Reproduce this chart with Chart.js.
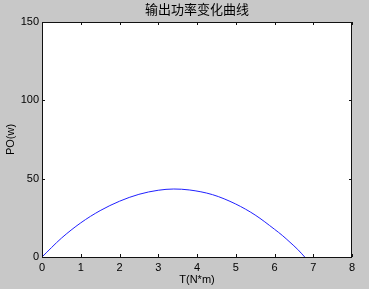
<!DOCTYPE html>
<html>
<head>
<meta charset="utf-8">
<script src="https://cdn.jsdelivr.net/npm/chart.js@4.4.1/dist/chart.umd.min.js"></script>
<style>
html,body{margin:0;padding:0;background:#c8c8c8;}
canvas{display:block;}
</style>
</head>
<body>
<canvas id="c" width="369" height="289"></canvas>
<script>
const titleText = '输出功率变化曲线';
const xLabel = 'T(N*m)';
const yLabel = 'PO(w)';
const torque = [0, 0.5, 1, 1.5, 2, 2.5, 3, 3.4, 3.8, 4.4, 5, 5.5, 6, 6.2, 6.4, 6.6, 6.78];
const power  = [0, 12.0, 21.8, 29.6, 35.6, 40.0, 42.6, 43.4, 42.8, 39.8, 33.8, 26.8, 17.7, 13.8, 9.4, 4.8, 0];
const xTicks = [0, 1, 2, 3, 4, 5, 6, 7, 8];
const yTicks = [0, 50, 100, 150];

const FONT = "'Liberation Sans', Arial, sans-serif";

const frame = {
  id: 'frame',
  beforeDraw(chart) {
    const {ctx, chartArea: a} = chart;
    ctx.save();
    ctx.fillStyle = '#c8c8c8';
    ctx.fillRect(0, 0, chart.width, chart.height);
    ctx.fillStyle = '#ffffff';
    ctx.fillRect(a.left, a.top, a.right - a.left, a.bottom - a.top);
    ctx.restore();
  },
  afterDraw(chart) {
    const {ctx, chartArea: a, scales} = chart;
    ctx.save();
    ctx.strokeStyle = '#111';
    ctx.lineWidth = 1;
    ctx.strokeRect(Math.round(a.left) + 0.5, Math.round(a.top) + 0.5,
                   Math.round(a.right - a.left) - 1, Math.round(a.bottom - a.top));
    const L = 3;
    ctx.beginPath();
    xTicks.forEach(v => {
      const x = Math.round(scales.x.getPixelForValue(v)) + 0.5;
      ctx.moveTo(x, a.bottom); ctx.lineTo(x, a.bottom - L);
      ctx.moveTo(x, a.top); ctx.lineTo(x, a.top + L);
    });
    yTicks.forEach(v => {
      const y = Math.round(scales.y.getPixelForValue(v)) + 0.5;
      ctx.moveTo(a.left, y); ctx.lineTo(a.left + L, y);
      ctx.moveTo(a.right, y); ctx.lineTo(a.right - L, y);
    });
    ctx.stroke();
    ctx.fillStyle = '#000';
    ctx.font = "13px 'Noto Sans CJK SC', sans-serif";
    ctx.textAlign = 'center';
    ctx.textBaseline = 'middle';
    ctx.fillText(titleText, (a.left + a.right) / 2, 9);
    ctx.restore();
  }
};

new Chart(document.getElementById('c'), {
  type: 'line',
  data: {
    datasets: [{
      data: torque.map((t, i) => ({x: t, y: power[i]})),
      borderColor: '#2020ff',
      borderWidth: 1,
      pointRadius: 0,
      fill: false,
      cubicInterpolationMode: 'monotone'
    }]
  },
  options: {
    responsive: false,
    animation: false,
    layout: {padding: {top: 22, right: 17, left: 0, bottom: 0}},
    plugins: {legend: {display: false}, tooltip: {enabled: false}, title: {display: false}},
    scales: {
      x: {
        type: 'linear', min: 0, max: 8,
        afterBuildTicks: s => { s.ticks = xTicks.map(v => ({value: v})); },
        afterFit: s => { s.height = 32; },
        grid: {display: false, drawTicks: false},
        border: {display: false},
        ticks: {color: '#000', font: {family: FONT, size: 11}, padding: 4, maxRotation: 0},
        title: {display: true, text: xLabel, color: '#000', font: {family: FONT, size: 11}, padding: {top: 0, bottom: 2}}
      },
      y: {
        type: 'linear', min: 0, max: 150,
        afterBuildTicks: s => { s.ticks = yTicks.map(v => ({value: v})); },
        afterFit: s => { s.width = 42; },
        grid: {display: false, drawTicks: false},
        border: {display: false},
        ticks: {color: '#000', font: {family: FONT, size: 11}, padding: 3},
        title: {display: true, text: yLabel, color: '#000', font: {family: FONT, size: 11}, padding: {top: 4, bottom: 0}}
      }
    }
  },
  plugins: [frame]
});
</script>
</body>
</html>
